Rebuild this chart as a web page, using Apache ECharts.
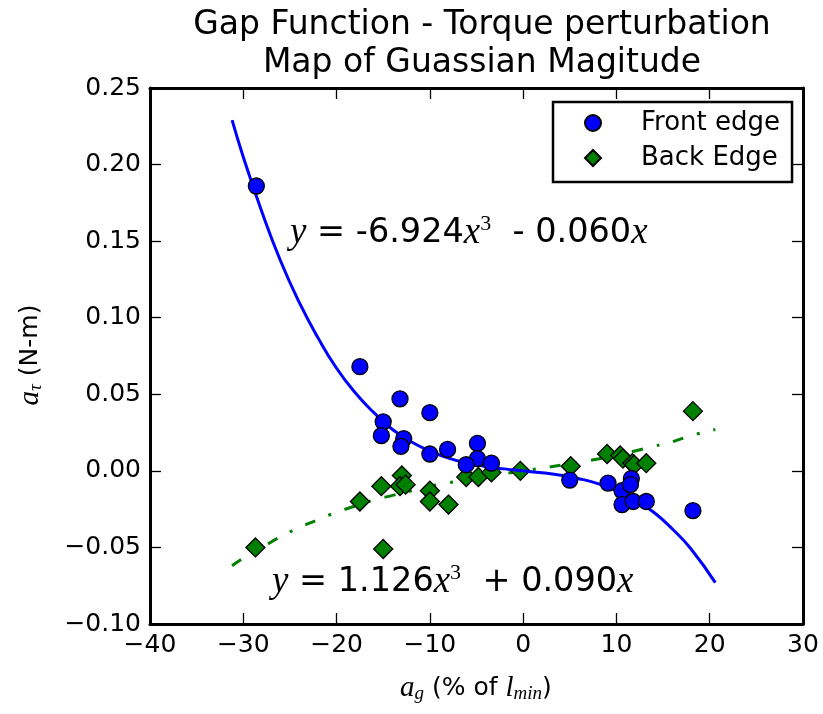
<!DOCTYPE html>
<html>
<head>
<meta charset="utf-8">
<script src="https://cdn.jsdelivr.net/npm/echarts@6/dist/echarts.min.js"></script>
<style>
  html, body { margin: 0; background: #fff; }
  #chart { width: 823px; height: 714px; }
</style>
</head>
<body>
<div id="chart"></div>
<script>
// front edge points (blue circles)
var frontX = [-28.6, -17.5, -13.2, -10.0, -15.0, -15.2, -12.8, -13.1, -10.0, -8.1, -4.9, -4.9, -6.1, -3.4,
              5.0, 9.1, 10.6, 11.6, 11.5, 10.6, 11.8, 13.2, 18.2];
var frontY = [0.186, 0.068, 0.047, 0.038, 0.032, 0.023, 0.021, 0.016, 0.011, 0.014, 0.018, 0.008, 0.004, 0.005,
              -0.006, -0.008, -0.013, -0.005, -0.009, -0.022, -0.020, -0.020, -0.026];

// back edge points (green diamonds)
var backX = [-28.7, -15.0, -17.5, -15.2, -13.0, -13.2, -12.6, -10.0, -10.0, -8.0, -6.1, -4.8, -3.4, -0.3,
             5.1, 9.0, 10.4, 10.7, 11.7, 11.9, 13.2, 18.2];
var backY = [-0.050, -0.051, -0.020, -0.010, -0.003, -0.010, -0.009, -0.013, -0.020, -0.022, -0.004, -0.004, -0.001, 0.000,
             0.003, 0.011, 0.010, 0.008, 0.005, 0.004, 0.005, 0.039];

// fitted curves
var fitX      = [-31.2, -30, -28, -26, -24, -22, -20, -18, -16, -14, -12, -10, -8, -6, -4, -2, 0,
                 2, 4, 6, 8, 10, 12, 14, 16, 18, 20.6];
var frontFitY = [0.229, 0.205, 0.169, 0.137, 0.110, 0.087, 0.067, 0.051, 0.038, 0.027, 0.019, 0.013, 0.0083,
                 0.0051, 0.0028, 0.0013, 0, -0.0013, -0.0028, -0.0051, -0.0083, -0.013, -0.019, -0.027,
                 -0.038, -0.051, -0.073];
var backFitY  = [-0.062, -0.057, -0.050, -0.043, -0.037, -0.032, -0.027, -0.023, -0.019, -0.016, -0.013, -0.010,
                 -0.0078, -0.0056, -0.0037, -0.0018, 0, 0.0018, 0.0037, 0.0056, 0.0078, 0.010, 0.013, 0.016,
                 0.019, 0.023, 0.027];

var xTicks = {min: -40, max: 30, interval: 10};
var yTicks = {min: -0.10, max: 0.25, interval: 0.05};

function zip(xs, ys) {
    var out = [];
    for (var i = 0; i < xs.length; i++) out.push([xs[i], ys[i]]);
    return out;
}

function fmt(v, digits) {
    var s = Math.abs(v).toFixed(digits);
    return v < 0 ? '\u2212' + s : s;
}

var chart = echarts.init(document.getElementById('chart'), null, {renderer: 'canvas'});

var mathFont = 'Liberation Serif';
var tickFont = {color: '#000', fontFamily: 'DejaVu Sans', fontSize: 25};
var frame = {show: true, onZero: false, lineStyle: {color: '#000', width: 3}};
var tick = {show: true, inside: true, length: 11, lineStyle: {color: '#000', width: 1.3}};

var eqRich = {
    i: {fontFamily: mathFont, fontStyle: 'italic', fontSize: 37, fill: '#000'},
    s: {fontFamily: mathFont, fontSize: 22, verticalAlign: 'top', padding: [0, 0, 17, 0], fill: '#000'},
    n: {fontFamily: 'DejaVu Sans', fontSize: 33.5, fill: '#000'}
};
var labelRich = {
    i: {fontFamily: mathFont, fontStyle: 'italic', fontSize: 29, fill: '#000'},
    u: {fontFamily: mathFont, fontStyle: 'italic', fontSize: 19, verticalAlign: 'bottom', padding: [11, 0, 0, 0], fill: '#000'},
    n: {fontFamily: 'DejaVu Sans', fontSize: 25, fill: '#000'}
};

var option = {
    animation: false,
    backgroundColor: '#fff',
    title: {
        text: 'Gap Function - Torque perturbation\nMap of Guassian Magitude',
        left: 477, top: 1, textAlign: 'center',
        textStyle: {fontFamily: 'DejaVu Sans', fontSize: 33, fontWeight: 'normal', color: '#000', lineHeight: 38}
    },
    legend: {
        data: [{name: 'Front edge', icon: 'circle'}, {name: 'Back Edge', icon: 'diamond'}],
        orient: 'vertical',
        left: 553, top: 102,
        padding: [8, 12, 11, 31],
        itemWidth: 16, itemHeight: 16,
        itemGap: 9,
        borderColor: '#000', borderWidth: 2.5,
        textStyle: {fontFamily: 'DejaVu Sans', fontSize: 26, color: '#000', lineHeight: 26, padding: [0, 0, 0, 35]}
    },
    grid: {left: 150, right: 20, top: 88, bottom: 90},
    xAxis: [
        {type: 'value', min: xTicks.min, max: xTicks.max, interval: xTicks.interval,
         axisLine: frame, axisTick: tick, splitLine: {show: false},
         axisLabel: Object.assign({margin: 9, formatter: function (v) { return fmt(v, 0); }}, tickFont)},
        {type: 'value', position: 'top', min: xTicks.min, max: xTicks.max, interval: xTicks.interval,
         axisLine: frame, axisTick: tick, splitLine: {show: false}, axisLabel: {show: false}}
    ],
    yAxis: [
        {type: 'value', min: yTicks.min, max: yTicks.max, interval: yTicks.interval,
         axisLine: frame, axisTick: tick, splitLine: {show: false},
         axisLabel: Object.assign({margin: 9, formatter: function (v) { return fmt(v, 2); }}, tickFont)},
        {type: 'value', position: 'right', min: yTicks.min, max: yTicks.max, interval: yTicks.interval,
         axisLine: frame, axisTick: tick, splitLine: {show: false}, axisLabel: {show: false}}
    ],
    series: [
        {name: 'back fit', type: 'line', data: zip(fitX, backFitY), smooth: true, showSymbol: false, z: 2,
         lineStyle: {color: '#008000', width: 3, type: [11, 14, 3, 14]}},
        {name: 'Back Edge', type: 'scatter', data: zip(backX, backY), symbol: 'diamond', symbolSize: [19, 19], z: 3,
         itemStyle: {color: '#008000', borderColor: '#000', borderWidth: 1.3, opacity: 1}},
        {name: 'front fit', type: 'line', data: zip(fitX, frontFitY), smooth: true, showSymbol: false, z: 4,
         lineStyle: {color: '#0000ff', width: 3}},
        {name: 'Front edge', type: 'scatter', data: zip(frontX, frontY), symbol: 'circle', symbolSize: 16, z: 5,
         itemStyle: {color: '#0000ff', borderColor: '#000', borderWidth: 1.3, opacity: 1}}
    ],
    graphic: [
        {type: 'text', x: 290, y: 233, z: 10,
         style: {text: '{i|y}{n| = -6.924}{i|x}{s|3}{n|  - 0.060}{i|x}', rich: eqRich, verticalAlign: 'middle', align: 'left'}},
        {type: 'text', x: 272, y: 582, z: 10,
         style: {text: '{i|y}{n| = 1.126}{i|x}{s|3}{n|  + 0.090}{i|x}', rich: eqRich, verticalAlign: 'middle', align: 'left'}},
        {type: 'text', x: 476, y: 688, z: 10,
         style: {text: '{i|a}{u|g}{n| (% of }{i|l}{u|min}{n|)}', align: 'center', verticalAlign: 'middle', rich: labelRich}},
        {type: 'text', x: 30, y: 355, rotation: Math.PI / 2, z: 10,
         style: {text: '{i|a}{u|\u03c4}{n| (N-m)}', align: 'center', verticalAlign: 'middle', rich: labelRich}}
    ]
};

chart.setOption(option);
</script>
</body>
</html>
